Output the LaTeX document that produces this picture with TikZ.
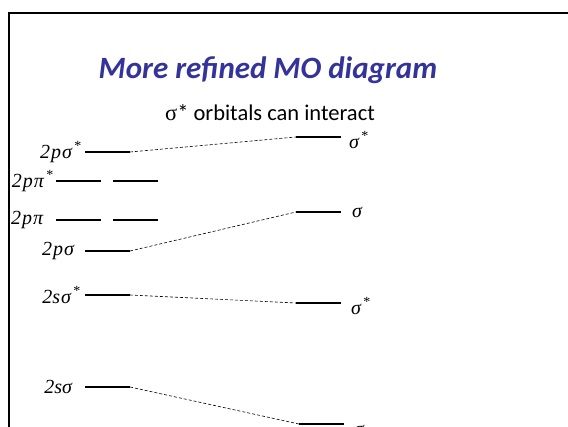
\documentclass[tikz,border=0pt]{standalone}
\usepackage{fontspec}
\setmainfont{Carlito}
\newfontfamily\timesfont{Liberation Serif}
\usepackage{tikz}
\usetikzlibrary{positioning}
\definecolor{titleblue}{RGB}{51,51,153}

\newcommand{\molab}[2]{{\itshape #1}\textsuperscript{\,#2}}
\newcommand{\gap}{\kern1pt}

\tikzset{
  level/.style={line width=2pt},
  link/.style={dash pattern=on 3pt off 2pt, line width=0.6pt},
  molabel/.style={font=\timesfont\fontsize{20}{20}\selectfont, inner sep=1pt},
}

\begin{document}
\begin{tikzpicture}[x=1pt, y=-1pt]
    \useasboundingbox (0,0) rectangle (568,427);
    \clip (0,0) rectangle (568,427);

    % Slide frame
    \draw[line width=2.5pt] (9,13) rectangle (640,480);

    % Title and subtitle
    \node[font=\fontsize{31}{33}\selectfont\bfseries\itshape, text=titleblue] (title) at (268,70) {More refined MO diagram};
    \node[font=\fontsize{22.5}{24}\selectfont] (subtitle) at (270,113) {{\timesfont σ}* orbitals can interact};

    % Left column levels
    \coordinate (psa1) at (85,152);  \coordinate (psa2) at (130,152);
    \coordinate (ppa1) at (56,181);  \coordinate (ppa2) at (101,181);
    \coordinate (ppa3) at (113,181); \coordinate (ppa4) at (158,181);
    \coordinate (pp1) at (56,220);   \coordinate (pp2) at (101,220);
    \coordinate (pp3) at (113,220);  \coordinate (pp4) at (158,220);
    \coordinate (ps1) at (85,251);   \coordinate (ps2) at (130,251);
    \coordinate (ssa1) at (85,295);  \coordinate (ssa2) at (130,295);
    \coordinate (ss1) at (85,387);   \coordinate (ss2) at (130,387);

    \draw[level] (psa1) -- (psa2);
    \draw[level] (ppa1) -- (ppa2);
    \draw[level] (ppa3) -- (ppa4);
    \draw[level] (pp1) -- (pp2);
    \draw[level] (pp3) -- (pp4);
    \draw[level] (ps1) -- (ps2);
    \draw[level] (ssa1) -- (ssa2);
    \draw[level] (ss1) -- (ss2);

    \node[molabel, left=2pt of psa1] (psalab) {\molab{2\gap p\gap σ}{*}};
    \node[molabel, left=1pt of ppa1] (ppalab) {\molab{2\gap p\gap π}{*}};
    \node[molabel, anchor=west] (pplab) at (10,220) {\molab{2\gap p\gap π}{}};
    \node[molabel, left=7pt of ps1] (pslab) {\molab{2\gap p\gap σ}{}};
    \node[molabel, left=3pt of ssa1] (ssalab) {\molab{2s\gap σ}{*}};
    \node[molabel, left=9pt of ss1] (sslab) {\molab{2sσ}{}};

    % Right column levels
    \coordinate (ra1) at (296,137); \coordinate (ra2) at (341,137);
    \coordinate (rb1) at (296,212); \coordinate (rb2) at (341,212);
    \coordinate (rc1) at (296,303); \coordinate (rc2) at (341,303);
    \coordinate (rd1) at (299,424); \coordinate (rd2) at (344,424);

    \draw[level] (ra1) -- (ra2);
    \draw[level] (rb1) -- (rb2);
    \draw[level] (rc1) -- (rc2);
    \draw[level] (rd1) -- (rd2);

    \node[molabel, anchor=west] (ralab) at ([xshift=7pt, yshift=-3pt]ra2) {\molab{σ}{*}};
    \node[molabel, anchor=west] (rblab) at ([xshift=10pt, yshift=0pt]rb2) {\molab{σ}{}};
    \node[molabel, anchor=west] (rclab) at ([xshift=9pt, yshift=-3pt]rc2) {\molab{σ}{*}};
    \node[molabel, anchor=west] (rdlab) at ([xshift=9pt, yshift=-6pt]rd2) {\molab{σ}{}};

    % Correlation lines
    \draw[link] (psa2) -- (ra1);
    \draw[link] (ps2) -- (rb1);
    \draw[link] (ssa2) -- (rc1);
    \draw[link] (ss2) -- (rd1);
\end{tikzpicture}
\end{document}
